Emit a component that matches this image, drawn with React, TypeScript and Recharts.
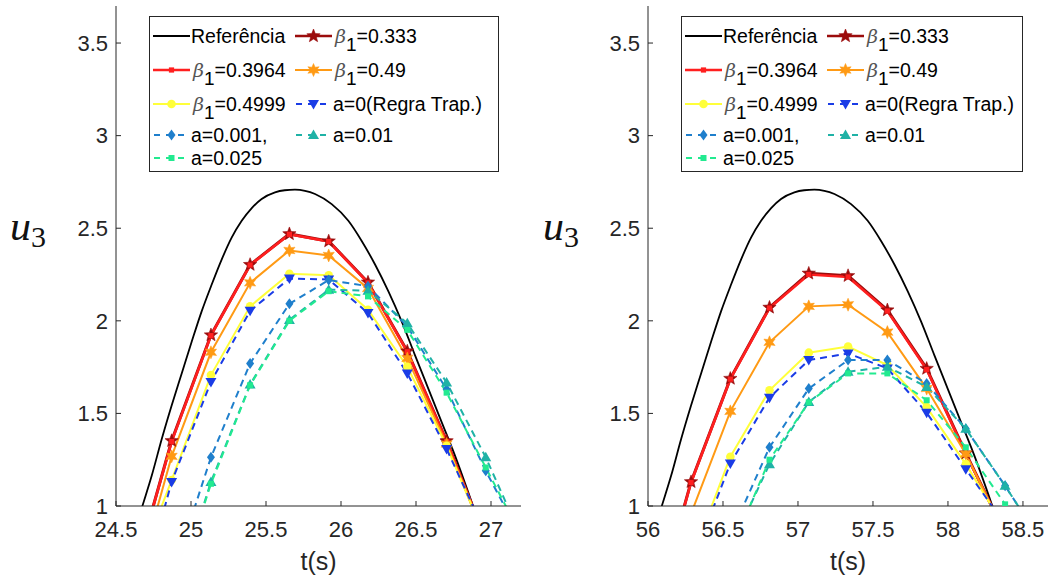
import React from 'react';
import { LineChart, Line, XAxis, YAxis, Legend } from 'recharts';

// ---------------- data ----------------
// time instants of the numerical solutions (left window)
const tLeft = [24.609, 24.871, 25.133, 25.394, 25.656, 25.918, 26.18, 26.442, 26.704, 26.965, 27.227];
// reference solution (left window)
const refLeftT = [24.64, 24.676, 24.738, 24.805, 24.871, 24.938, 25.005, 25.071, 25.138, 25.205, 25.271, 25.338, 25.405, 25.471, 25.56, 25.625, 25.693, 25.76, 25.827, 25.938, 26.049, 26.138, 26.227, 26.316, 26.405, 26.493, 26.582, 26.671, 26.76, 26.849, 26.88, 26.92];
const refLeftU = [0.905, 1.0, 1.163, 1.362, 1.543, 1.716, 1.888, 2.051, 2.196, 2.332, 2.449, 2.54, 2.609, 2.658, 2.694, 2.705, 2.708, 2.702, 2.685, 2.63, 2.54, 2.431, 2.304, 2.159, 1.996, 1.815, 1.634, 1.453, 1.272, 1.072, 1.0, 0.905];
const beta333Left = [0.6, 1.352, 1.923, 2.303, 2.469, 2.43, 2.208, 1.836, 1.351, 0.82, null];
const beta3964Left = [0.6, 1.348, 1.92, 2.301, 2.467, 2.428, 2.205, 1.833, 1.348, 0.82, null];
const beta49Left = [0.51, 1.268, 1.83, 2.205, 2.38, 2.353, 2.175, 1.797, 1.335, 0.825, null];
const beta4999Left = [0.585, 1.14, 1.707, 2.078, 2.254, 2.246, 2.06, 1.752, 1.325, 0.82, null];
const a0Left = [0.36, 1.13, 1.67, 2.054, 2.228, 2.223, 2.042, 1.716, 1.308, 0.85, null];
const a001Left = [null, 0.61, 1.263, 1.77, 2.092, 2.22, 2.187, 1.97, 1.63, 1.19, 0.79];
const a01Left = [null, 0.46, 1.13, 1.656, 2.005, 2.168, 2.163, 1.987, 1.667, 1.263, 0.787];
const a025Left = [null, 0.46, 1.12, 1.652, 2.0, 2.16, 2.132, 1.951, 1.612, 1.208, 0.8];

// right window
const tRight = [56.025, 56.287, 56.549, 56.81, 57.072, 57.334, 57.596, 57.858, 58.119, 58.381, 58.643];
const refRightT = [56.056, 56.092, 56.154, 56.221, 56.287, 56.354, 56.421, 56.487, 56.554, 56.621, 56.687, 56.754, 56.821, 56.887, 56.976, 57.041, 57.109, 57.176, 57.243, 57.354, 57.465, 57.554, 57.643, 57.732, 57.821, 57.909, 57.998, 58.087, 58.176, 58.265, 58.296, 58.336];
const refRightU = [0.905, 1.0, 1.163, 1.362, 1.543, 1.716, 1.888, 2.051, 2.196, 2.332, 2.449, 2.54, 2.609, 2.658, 2.694, 2.705, 2.708, 2.702, 2.685, 2.63, 2.54, 2.431, 2.304, 2.159, 1.996, 1.815, 1.634, 1.453, 1.272, 1.072, 1.0, 0.905];
const beta333Right = [0.37, 1.13, 1.688, 2.072, 2.256, 2.243, 2.058, 1.742, 1.285, 0.85, null];
const beta3964Right = [0.37, 1.127, 1.685, 2.069, 2.25, 2.237, 2.053, 1.737, 1.281, 0.85, null];
const beta49Right = [0.5, 0.958, 1.511, 1.884, 2.078, 2.087, 1.939, 1.634, 1.281, 0.85, null];
const beta4999Right = [null, 0.704, 1.266, 1.625, 1.828, 1.861, 1.761, 1.534, 1.226, 0.88, null];
const a0Right = [null, 0.677, 1.23, 1.585, 1.788, 1.824, 1.743, 1.504, 1.199, 0.9, null];
const a001Right = [null, null, 0.842, 1.317, 1.634, 1.788, 1.788, 1.661, 1.417, 1.109, 0.78];
const a01Right = [null, null, 0.774, 1.226, 1.562, 1.725, 1.752, 1.643, 1.417, 1.109, 0.78];
const a025Right = [null, null, 0.75, 1.25, 1.56, 1.716, 1.716, 1.571, 1.317, 1.009, 0.7];

const xTicksLeft = [24.5, 25, 25.5, 26, 26.5, 27];
const xTicksRight = [56, 56.5, 57, 57.5, 58, 58.5];
const yTicks = [1, 1.5, 2, 2.5, 3, 3.5];
const xDomainLeft = [24.5, 27.2];
const xDomainRight = [56, 58.667];
const yDomain = [1, 3.7];

const seriesNames = ['Referência', '0.333', '0.3964', '0.49', '0.4999', 'a=0(Regra Trap.)', 'a=0.001,', 'a=0.01', 'a=0.025'];
const seriesIsBeta = [false, true, true, true, true, false, false, false, false];

// ---------------- styles ----------------
const STYLES = [
  { color: '#000000', width: 1.8, dash: undefined, marker: null },
  { color: '#9b0c0c', width: 3, dash: undefined, marker: 'pentagram' },
  { color: '#ff1f1f', width: 2.6, dash: undefined, marker: 'square' },
  { color: '#ff9a14', width: 2, dash: undefined, marker: 'hexstar' },
  { color: '#ffff3a', width: 2, dash: undefined, marker: 'circle' },
  { color: '#1a3ce6', width: 2, dash: '7 5', marker: 'triDown' },
  { color: '#1f7fcc', width: 2, dash: '7 5', marker: 'diamond' },
  { color: '#1fb2a6', width: 2, dash: '7 5', marker: 'triUp' },
  { color: '#22ea90', width: 2, dash: '7 5', marker: 'dot' },
];
const LEGEND_POS = [[0, 0], [1, 0], [0, 1], [1, 1], [0, 2], [1, 2], [0, 3], [1, 3], [0, 4]];
const LEGEND_ROW_Y = [19, 53, 87, 118, 141];
const AXIS_COLOR = '#262626';
const SANS = '"Liberation Sans", Arial, Helvetica, sans-serif';
const SERIF = '"Liberation Serif", "DejaVu Serif", serif';

function starPath(x: number, y: number, n: number, R: number, r: number) {
  let d = '';
  for (let i = 0; i < 2 * n; i++) {
    const ang = -Math.PI / 2 + (i * Math.PI) / n;
    const rad = i % 2 === 0 ? R : r;
    d += (i === 0 ? 'M' : 'L') + (x + rad * Math.cos(ang)).toFixed(2) + ',' + (y + rad * Math.sin(ang)).toFixed(2);
  }
  return d + 'Z';
}

function Marker({ shape, x, y, color }: { shape: string; x: number; y: number; color: string }) {
  switch (shape) {
    case 'pentagram':
      return <path d={starPath(x, y, 5, 7, 3)} fill={color} stroke={color} strokeWidth={0.6} />;
    case 'square':
      return <rect x={x - 2.6} y={y - 2.6} width={5.2} height={5.2} fill={color} />;
    case 'hexstar':
      return <path d={starPath(x, y, 6, 6.5, 3.2)} fill={color} stroke={color} strokeWidth={0.5} />;
    case 'circle':
      return <circle cx={x} cy={y} r={4.3} fill={color} />;
    case 'triDown':
      return <polygon points={`${x - 5.5},${y - 4} ${x + 5.5},${y - 4} ${x},${y + 5.5}`} fill={color} />;
    case 'diamond':
      return <polygon points={`${x},${y - 5.5} ${x + 4},${y} ${x},${y + 5.5} ${x - 4},${y}`} fill={color} />;
    case 'triUp':
      return <polygon points={`${x - 5.5},${y + 4} ${x + 5.5},${y + 4} ${x},${y - 5.5}`} fill={color} />;
    case 'dot':
      return <rect x={x - 3} y={y - 3} width={6} height={6} fill={color} />;
    default:
      return null;
  }
}

const makeDot = (shape: string, color: string) => (props: any) => {
  const { cx, cy, value, index } = props;
  const k = `dot-${index}`;
  if (value == null || cx == null || cy == null || Number.isNaN(cy)) return <g key={k} />;
  return (
    <g key={k}>
      <Marker shape={shape} x={cx} y={cy} color={color} />
    </g>
  );
};

function LegendBox({ width }: { width: number }) {
  return (
    <div
      style={{
        position: 'relative',
        width,
        height: 156,
        boxSizing: 'border-box',
        border: `1px solid ${AXIS_COLOR}`,
        background: '#fff',
        fontFamily: SANS,
        fontSize: 19.5,
        color: '#000',
      }}
    >
      {seriesNames.map((name, i) => {
        const [col, row] = LEGEND_POS[i];
        const st = STYLES[i];
        const left = col === 0 ? 3 : 145;
        return (
          <div
            key={name}
            style={{ position: 'absolute', left, top: LEGEND_ROW_Y[row] - 12, height: 24, display: 'flex', alignItems: 'center', whiteSpace: 'nowrap' }}
          >
            <svg width={37} height={24} style={{ display: 'block' }}>
              <line x1={0} y1={12} x2={37} y2={12} stroke={st.color} strokeWidth={st.width > 2.2 ? 2.4 : 2} strokeDasharray={st.dash ? '6 6' : undefined} strokeDashoffset={st.dash ? -1 : undefined} />
              {st.marker && <Marker shape={st.marker} x={18.5} y={12} color={st.color} />}
            </svg>
            {seriesIsBeta[i] ? (
              <span style={{ marginLeft: 3, lineHeight: '24px' }}>
                <span style={{ fontFamily: '"DejaVu Serif", serif', fontStyle: 'italic', color: '#555', fontSize: 19 }}>β</span>
                <span style={{ position: 'relative', top: 8, fontSize: 19 }}>1</span>
                <span>={name}</span>
              </span>
            ) : (
              <span style={{ marginLeft: 1, lineHeight: '24px' }}>{name}</span>
            )}
          </div>
        );
      })}
    </div>
  );
}

type PanelProps = {
  left: number;
  width: number;
  yAxisWidth: number;
  marginRight: number;
  t: number[];
  refT: number[];
  refU: number[];
  series: (number | null)[][];
  xDomain: number[];
  xTicks: number[];
  legendLeft: number;
  legendWidth: number;
  uLabelX: number;
};

function Panel(p: PanelProps) {
  const refData = p.refT.map((tt, i) => ({ t: tt, u: p.refU[i] }));
  const seriesData = p.series.map((arr) => p.t.map((tt, i) => ({ t: tt, u: arr[i] })));
  const tickStyle = { fill: AXIS_COLOR, fontSize: 22, fontFamily: SANS };
  return (
    <div style={{ position: 'absolute', left: p.left, top: 0 }}>
      <LineChart width={p.width} height={578} margin={{ top: 6, right: p.marginRight, bottom: 0, left: 0 }}>
        <XAxis
          xAxisId="b"
          type="number"
          dataKey="t"
          domain={p.xDomain}
          ticks={p.xTicks}
          allowDataOverflow
          orientation="bottom"
          height={72}
          tickSize={-5}
          tickMargin={20}
          stroke={AXIS_COLOR}
          tick={tickStyle}
          label={{
            content: (lp: any) => {
              const vb = lp.viewBox || {};
              return (
                <text x={vb.x + vb.width / 2} y={570} textAnchor="middle" fill={AXIS_COLOR} fontSize={25} fontFamily={SANS}>
                  t(s)
                </text>
              );
            },
          }}
        />
        <XAxis xAxisId="top" type="number" dataKey="t" domain={p.xDomain} ticks={p.xTicks} allowDataOverflow orientation="top" height={0} tickSize={-5} tick={false} stroke={AXIS_COLOR} />
        <YAxis
          yAxisId="l"
          type="number"
          domain={yDomain}
          ticks={yTicks}
          allowDataOverflow
          width={p.yAxisWidth}
          tickSize={-5}
          tickMargin={13}
          stroke={AXIS_COLOR}
          tick={tickStyle}
          label={{
            content: () => (
              <text x={p.uLabelX} y={240} fill="#111">
                <tspan fontFamily={SERIF} fontStyle="italic" fontSize={42}>u</tspan>
                <tspan fontFamily={SERIF} fontSize={30} dy={7}>3</tspan>
              </text>
            ),
          }}
        />
        <YAxis yAxisId="r" type="number" domain={yDomain} ticks={yTicks} allowDataOverflow orientation="right" width={0} tickSize={-5} tick={false} stroke={AXIS_COLOR} />
        <Line
          xAxisId="b"
          yAxisId="l"
          data={refData}
          dataKey="u"
          type="monotone"
          stroke={STYLES[0].color}
          strokeWidth={STYLES[0].width}
          dot={false}
          activeDot={false}
          isAnimationActive={false}
        />
        {seriesData.map((d, i) => {
          const st = STYLES[i + 1];
          return (
            <Line
              key={seriesNames[i + 1]}
              xAxisId="b"
              yAxisId="l"
              data={d}
              dataKey="u"
              type="linear"
              stroke={st.color}
              strokeWidth={st.width}
              strokeDasharray={st.dash}
              dot={makeDot(st.marker as string, st.color)}
              activeDot={false}
              isAnimationActive={false}
            />
          );
        })}
        <Legend
          layout="horizontal"
          verticalAlign="middle"
          align="center"
          content={() => <LegendBox width={p.legendWidth} />}
          wrapperStyle={{ position: 'absolute', left: p.legendLeft, top: 16, width: p.legendWidth, height: 156 }}
        />
      </LineChart>
    </div>
  );
}

export default function App() {
  return (
    <div style={{ position: 'absolute', left: 0, top: 0, width: 1053, height: 578, background: '#fff', overflow: 'hidden' }}>
      <Panel
        left={0}
        width={530}
        yAxisWidth={116}
        marginRight={9}
        t={tLeft}
        refT={refLeftT}
        refU={refLeftU}
        series={[beta333Left, beta3964Left, beta49Left, beta4999Left, a0Left, a001Left, a01Left, a025Left]}
        xDomain={xDomainLeft}
        xTicks={xTicksLeft}
        legendLeft={149}
        legendWidth={350}
        uLabelX={10}
      />
      <Panel
        left={530}
        width={523}
        yAxisWidth={118}
        marginRight={5}
        t={tRight}
        refT={refRightT}
        refU={refRightU}
        series={[beta333Right, beta3964Right, beta49Right, beta4999Right, a0Right, a001Right, a01Right, a025Right]}
        xDomain={xDomainRight}
        xTicks={xTicksRight}
        legendLeft={151}
        legendWidth={342}
        uLabelX={13}
      />
    </div>
  );
}
